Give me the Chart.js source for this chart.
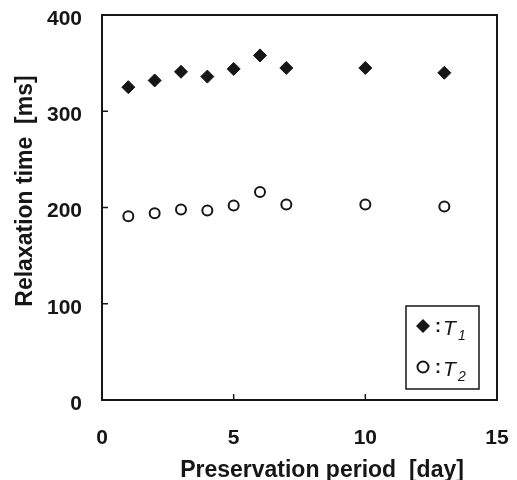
<!DOCTYPE html>
<html>
<head>
<meta charset="utf-8">
<title>Relaxation time vs preservation period</title>
<script src="https://cdn.jsdelivr.net/npm/chart.js@4.4.0/dist/chart.umd.min.js"></script>
<style>
    body { margin: 0; background: #fff; }
    #wrap { width: 517px; height: 480px; }
</style>
</head>
<body>
<div id="wrap"><canvas id="chart" width="517" height="480"></canvas></div>
<script>
// Data
const days = [1, 2, 3, 4, 5, 6, 7, 10, 13];
const t1Values = [325, 332, 341, 336, 344, 358, 345, 345, 340];
const t2Values = [191, 194, 198, 197, 202, 216, 203, 203, 201];
const xTicks = [0, 5, 10, 15];
const yTicks = [0, 100, 200, 300, 400];
const seriesNames = ['T1', 'T2'];

const ink = '#161616';
const fontFamily = '"Liberation Sans", Arial, Helvetica, sans-serif';

function toPoints(values) {
    return days.map((d, i) => ({ x: d, y: values[i] }));
}

// keep the plot box where the figure has it
function fixScale(size) {
    return s => {
        if (s.isHorizontal()) s.height = size; else s.width = size;
        s.paddingTop = s.paddingBottom = s.paddingLeft = s.paddingRight = 0;
    };
}

// Frame, inward tick marks, axis titles and the boxed legend
const framePlugin = {
    id: 'frame',
    afterDraw(chart) {
        const { ctx, chartArea: a, scales } = chart;
        ctx.save();
        ctx.strokeStyle = ink;
        ctx.fillStyle = ink;

        // plot box
        ctx.lineWidth = 2;
        ctx.strokeRect(a.left, a.top, a.right - a.left, a.bottom - a.top);

        // tick marks point into the plot
        ctx.lineWidth = 1.5;
        ctx.beginPath();
        yTicks.slice(1, -1).forEach(v => {
            const y = scales.y.getPixelForValue(v);
            ctx.moveTo(a.left, y);
            ctx.lineTo(a.left + 6, y);
        });
        xTicks.slice(1, -1).forEach(v => {
            const x = scales.x.getPixelForValue(v);
            ctx.moveTo(x, a.bottom);
            ctx.lineTo(x, a.bottom - 6);
        });
        ctx.stroke();

        // axis titles
        ctx.font = 'bold 23px ' + fontFamily;
        ctx.textAlign = 'center';
        ctx.textBaseline = 'alphabetic';
        ctx.fillText('Preservation period  [day]', 322, 477);

        ctx.save();
        ctx.translate(32, 191);
        ctx.rotate(-Math.PI / 2);
        ctx.fillText('Relaxation time  [ms]', 0, 0);
        ctx.restore();

        // legend box
        const lx = a.right - 91, ly = a.bottom - 94;
        ctx.lineWidth = 1.5;
        ctx.strokeRect(lx, ly, 73, 83);

        seriesNames.forEach((name, i) => {
            const cx = lx + 17;
            const cy = ly + 20 + i * 41;
            ctx.lineWidth = 2;
            ctx.beginPath();
            if (i === 0) {
                ctx.moveTo(cx, cy - 7);
                ctx.lineTo(cx + 7, cy);
                ctx.lineTo(cx, cy + 7);
                ctx.lineTo(cx - 7, cy);
                ctx.closePath();
                ctx.fill();
            } else {
                ctx.arc(cx, cy, 5.5, 0, Math.PI * 2);
                ctx.stroke();
            }
            ctx.textAlign = 'left';
            ctx.textBaseline = 'alphabetic';
            ctx.font = 'bold 18px ' + fontFamily;
            ctx.fillText(':', cx + 12, cy + 6);
            ctx.font = 'italic 21px ' + fontFamily;
            ctx.fillText(name.charAt(0), cx + 20, cy + 9);
            ctx.font = 'italic 14px ' + fontFamily;
            ctx.fillText(name.slice(1), cx + 35, cy + 14);
        });

        ctx.restore();
    }
};

const tickFont = { family: fontFamily, size: 21, weight: 'bold' };

new Chart(document.getElementById('chart'), {
    type: 'scatter',
    data: {
        datasets: [
            {
                label: seriesNames[0],
                data: toPoints(t1Values),
                pointStyle: 'rectRot',
                pointRadius: 6.5,
                backgroundColor: ink,
                borderColor: ink,
                borderWidth: 1
            },
            {
                label: seriesNames[1],
                data: toPoints(t2Values),
                pointStyle: 'circle',
                pointRadius: 5,
                backgroundColor: '#fff',
                borderColor: ink,
                borderWidth: 2
            }
        ]
    },
    options: {
        responsive: false,
        animation: false,
        layout: { padding: { top: 15, right: 20, left: 0, bottom: 0 } },
        plugins: {
            legend: { display: false },
            tooltip: { enabled: false }
        },
        scales: {
            x: {
                type: 'linear',
                min: 0,
                max: 15,
                grid: { display: false, drawTicks: false },
                border: { display: false },
                afterBuildTicks: s => { s.ticks = xTicks.map(v => ({ value: v })); },
                ticks: { font: tickFont, color: ink, padding: 26, maxRotation: 0 },
                afterFit: fixScale(80)
            },
            y: {
                min: 0,
                max: 400,
                grid: { display: false, drawTicks: false },
                border: { display: false },
                afterBuildTicks: s => { s.ticks = yTicks.map(v => ({ value: v })); },
                ticks: { font: tickFont, color: ink, padding: 20, labelOffset: 4 },
                afterFit: fixScale(102)
            }
        }
    },
    plugins: [framePlugin]
});
</script>
</body>
</html>
